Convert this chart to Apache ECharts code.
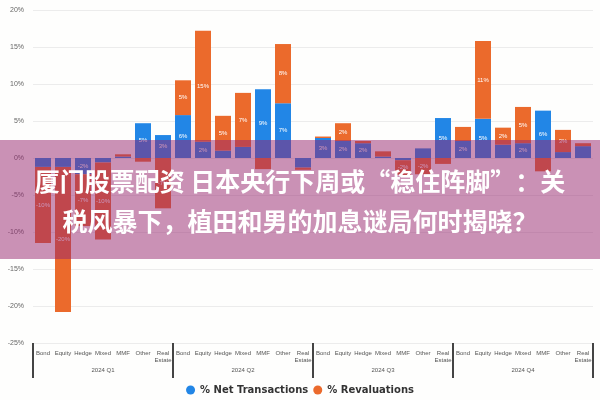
<!DOCTYPE html>
<html>
<head>
<meta charset="utf-8">
<script src="https://cdn.jsdelivr.net/npm/echarts@6/dist/echarts.min.js"></script>
<style>
html,body{margin:0;padding:0;background:#fff;}
#chart{width:600px;height:400px;}
</style>
</head>
<body>
<div id="chart"></div>
<script>
// ---- data ----
const groupNames = ["2024 Q1", "2024 Q2", "2024 Q3", "2024 Q4"];
const assetClasses = ["Bond", "Equity", "Hedge", "Mixed", "MMF", "Other", "Real\nEstate"];
const netTransactions = [
  -1.2, -1.2, -2.2, -0.6, 0.2, 4.7, 3.1,
  5.8, 2.2, 1.0, 1.5, 9.3, 7.4, -1.3,
  2.7, 2.3, 2.0, 0.2, -0.3, 1.3, 5.4,
  2.3, 5.3, 1.8, 2.0, 6.4, 0.8, 1.6
];
const revaluations = [
  -10.3, -19.6, -7.0, -10.4, 0.3, -0.5, -6.8,
  4.7, 15.0, 4.7, 7.3, -1.5, 8.0, -0.3,
  0.2, 2.4, 0.3, 0.7, -2.0, -2.2, -0.8,
  1.9, 10.5, 2.3, 4.9, -1.8, 3.0, 0.4
];
const yTicks = { min: -25, max: 20, step: 5 };
const seriesNames = ["% Net Transactions", "% Revaluations"];
const bannerLines = ["厦门股票配资 日本央行下周或“稳住阵脚”：关", "税风暴下，植田和男的加息谜局何时揭晓？"];

// ---- build ----
const categories = [];
groupNames.forEach(() => assetClasses.forEach(a => categories.push(a)));

const blue = "#2286e6";
const orange = "#eb6a2c";

const labelCfg = {
  show: true,
  position: "inside",
  fontSize: 6,
  color: "#fff",
  formatter: p => Math.abs(p.value) >= 2 ? Math.round(p.value) + "%" : ""
};

const chart = echarts.init(document.getElementById("chart"));
chart.setOption({
  backgroundColor: "#fefefd",
  animation: false,
  grid: { left: 33, right: 7, top: 10, bottom: 57 },
  legend: {
    bottom: 0,
    left: "center",
    icon: "circle",
    itemWidth: 9,
    itemHeight: 9,
    itemGap: 5,
    textStyle: { fontSize: 10, fontWeight: "bold", color: "#333", fontFamily: "DejaVu Sans" },
    data: seriesNames
  },
  xAxis: [
    {
      type: "category",
      data: categories,
      position: "bottom",
      axisLine: { show: false },
      axisTick: { show: false },
      axisLabel: { interval: 0, fontSize: 6, color: "#555", margin: 7, lineHeight: 7 }
    },
    {
      type: "category",
      data: groupNames,
      position: "bottom",
      axisLine: { show: false },
      axisTick: { show: true, length: 35, lineStyle: { color: "#444", width: 2 } },
      axisLabel: { fontSize: 6, color: "#555", margin: 24 },
      splitLine: { show: false }
    }
  ],
  yAxis: {
    type: "value",
    min: yTicks.min,
    max: yTicks.max,
    interval: yTicks.step,
    axisLabel: { formatter: "{value}%", fontSize: 7, color: "#666", margin: 9 },
    axisLine: { show: false },
    axisTick: { show: false },
    splitLine: { lineStyle: { color: "#ececec" } }
  },
  series: [
    {
      name: seriesNames[0],
      type: "bar",
      stack: "total",
      xAxisIndex: 0,
      barCategoryGap: "20%",
      itemStyle: { color: blue },
      label: labelCfg,
      data: netTransactions
    },
    {
      name: seriesNames[1],
      type: "bar",
      stack: "total",
      xAxisIndex: 0,
      barCategoryGap: "20%",
      itemStyle: { color: orange },
      label: labelCfg,
      data: revaluations
    }
  ],
  graphic: [
    {
      type: "rect",
      z: 100,
      shape: { x: 0, y: 140, width: 600, height: 119 },
      style: { fill: "rgba(150,35,110,0.5)" }
    },
    {
      type: "text",
      z: 101,
      x: 300,
      y: 181,
      style: {
        text: bannerLines[0],
        fill: "#fff",
        font: "bold 25px 'Noto Sans CJK SC'",
        textAlign: "center",
        textVerticalAlign: "middle"
      }
    },
    {
      type: "text",
      z: 101,
      x: 300,
      y: 221,
      style: {
        text: bannerLines[1],
        fill: "#fff",
        font: "bold 25px 'Noto Sans CJK SC'",
        textAlign: "center",
        textVerticalAlign: "middle"
      }
    }
  ]
});
</script>
</body>
</html>
